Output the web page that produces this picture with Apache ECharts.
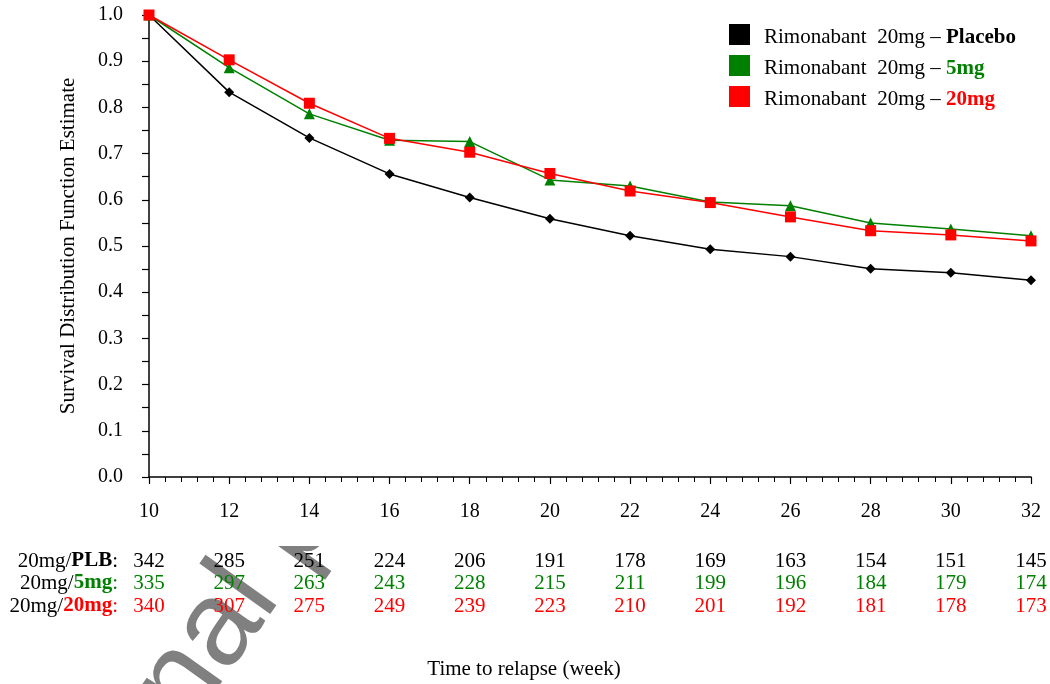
<!DOCTYPE html>
<html>
<head>
<meta charset="utf-8">
<script src="https://cdn.jsdelivr.net/npm/echarts@6/dist/echarts.min.js"></script>
<style>
  html, body { margin: 0; padding: 0; background: #fff; }
  #main { width: 1050px; height: 684px; }
</style>
</head>
<body>
<div id="main"></div>
<script>
// weeks on the x axis
var weeks = [10, 12, 14, 16, 18, 20, 22, 24, 26, 28, 30, 32];

// survival estimates
var placebo = [1.0, 0.833, 0.734, 0.656, 0.605, 0.559, 0.522, 0.493, 0.477, 0.451, 0.442, 0.426];
var dose5   = [1.0, 0.886, 0.786, 0.729, 0.726, 0.643, 0.630, 0.595, 0.587, 0.550, 0.537, 0.522];
var dose20  = [1.0, 0.903, 0.809, 0.733, 0.703, 0.657, 0.619, 0.594, 0.563, 0.533, 0.524, 0.511];

// numbers at risk under the axis
var riskPlb = [342, 285, 251, 224, 206, 191, 178, 169, 163, 154, 151, 145];
var risk5   = [335, 297, 263, 243, 228, 215, 211, 199, 196, 184, 179, 174];
var risk20  = [340, 307, 275, 249, 239, 223, 210, 201, 192, 181, 178, 173];

var FONT = "'Liberation Serif', 'Times New Roman', serif";
var GREEN = '#008000', RED = '#ff0000';

function pairs(vals) {
    return weeks.map(function (w, i) { return [w, vals[i]]; });
}

// extra x axes used only to lay the at-risk counts under each week
function riskAxis(counts, color, offset) {
    return {
        type: 'value', gridIndex: 0, position: 'bottom', offset: offset,
        min: 10, max: 32, interval: 2, z: 3,
        axisLine: {show: false}, axisTick: {show: false}, splitLine: {show: false},
        axisLabel: {
            margin: 0, color: color, fontFamily: FONT, fontSize: 21,
            showMinLabel: true, showMaxLabel: true,
            formatter: function (v) { return counts[Math.round((v - 10) / 2)]; }
        }
    };
}

var myChart = echarts.init(document.getElementById('main'));

var option = {
    backgroundColor: '#fff',
    animation: false,
    grid: {left: 149, right: 19, top: 15, bottom: 207},
    legend: {
        orient: 'vertical', left: 724, top: 19, itemWidth: 21, itemHeight: 21, itemGap: 7,
        icon: 'rect',
        data: ['Placebo', '5mg', '20mg'],
        textStyle: {
            fontFamily: FONT, fontSize: 21, color: '#000', padding: [6, 0, 0, 9],
            rich: {
                a: {fontFamily: FONT, fontSize: 21, color: '#000'},
                p: {fontFamily: FONT, fontSize: 21, color: '#000', fontWeight: 'bold'},
                g: {fontFamily: FONT, fontSize: 21, color: GREEN, fontWeight: 'bold'},
                r: {fontFamily: FONT, fontSize: 21, color: RED, fontWeight: 'bold'}
            }
        },
        formatter: function (name) {
            var key = name === 'Placebo' ? 'p' : (name === '5mg' ? 'g' : 'r');
            return '{a|Rimonabant  20mg \u2013 }{' + key + '|' + name + '}';
        }
    },
    xAxis: [{
        type: 'value', min: 10, max: 32, interval: 2, z: 3,
        axisLine: {onZero: false, lineStyle: {color: '#000', width: 1.5}},
        axisTick: {length: 7, lineStyle: {color: '#000', width: 1.2}},
        minorTick: {show: true, splitNumber: 5, length: 5, lineStyle: {color: '#000', width: 1}},
        splitLine: {show: false},
        axisLabel: {margin: 25, color: '#000', fontFamily: FONT, fontSize: 20}
    },
        riskAxis(riskPlb, '#000', 74),
        riskAxis(risk5, GREEN, 96),
        riskAxis(risk20, RED, 119)
    ],
    yAxis: {
        type: 'value', min: 0, max: 1, interval: 0.1, z: 3,
        name: 'Survival Distribution Function Estimate',
        nameLocation: 'middle', nameGap: 70,
        nameTextStyle: {fontFamily: FONT, fontSize: 21, color: '#000'},
        axisLine: {show: true, lineStyle: {color: '#000', width: 1.5}},
        axisTick: {show: true, length: 7, lineStyle: {color: '#000', width: 1.2}},
        minorTick: {show: true, splitNumber: 2, length: 7, lineStyle: {color: '#000', width: 1.2}},
        splitLine: {show: false},
        axisLabel: {
            margin: 26, color: '#000', fontFamily: FONT, fontSize: 20,
            formatter: function (v) { return v.toFixed(1); }
        }
    },
    series: [{
        name: 'Placebo', type: 'line', data: pairs(placebo),
        symbol: 'diamond', symbolSize: 10,
        itemStyle: {color: '#000'}, lineStyle: {color: '#000', width: 1.5}
    }, {
        name: '5mg', type: 'line', data: pairs(dose5),
        symbol: 'triangle', symbolSize: 11,
        itemStyle: {color: GREEN}, lineStyle: {color: GREEN, width: 1.5}
    }, {
        name: '20mg', type: 'line', data: pairs(dose20),
        symbol: 'rect', symbolSize: 11,
        itemStyle: {color: RED}, lineStyle: {color: RED, width: 1.5}
    }],
    graphic: [
        // watermark, only its lower part shows
        {
            type: 'text', x: 161, y: 710, rotation: 54.5 * Math.PI / 180, z: -1,
            style: {
                text: 'nal p', fill: '#808080',
                font: "120px 'Liberation Sans', Arial, sans-serif",
                textAlign: 'left', textVerticalAlign: 'middle'
            }
        },
        {
            type: 'rect', z: 1, shape: {x: 100, y: 0, width: 450, height: 546},
            style: {fill: '#fff'}
        },
        // row labels of the at-risk table
        {
            type: 'text', x: 118, y: 561, z: 3,
            style: {
                text: '{a|20mg/}{b|PLB}{a|:}', textAlign: 'right', textVerticalAlign: 'middle',
                rich: {
                    a: {fontFamily: FONT, fontSize: 21, fill: '#000'},
                    b: {fontFamily: FONT, fontSize: 21, fill: '#000', fontWeight: 'bold'}
                }
            }
        },
        {
            type: 'text', x: 118, y: 583, z: 3,
            style: {
                text: '{a|20mg/}{b|5mg}{c|:}', textAlign: 'right', textVerticalAlign: 'middle',
                rich: {
                    a: {fontFamily: FONT, fontSize: 21, fill: '#000'},
                    b: {fontFamily: FONT, fontSize: 21, fill: GREEN, fontWeight: 'bold'},
                    c: {fontFamily: FONT, fontSize: 21, fill: GREEN}
                }
            }
        },
        {
            type: 'text', x: 118, y: 606, z: 3,
            style: {
                text: '{a|20mg/}{b|20mg}{c|:}', textAlign: 'right', textVerticalAlign: 'middle',
                rich: {
                    a: {fontFamily: FONT, fontSize: 21, fill: '#000'},
                    b: {fontFamily: FONT, fontSize: 21, fill: RED, fontWeight: 'bold'},
                    c: {fontFamily: FONT, fontSize: 21, fill: RED}
                }
            }
        },
        {
            type: 'text', x: 524, y: 669, z: 3,
            style: {
                text: 'Time to relapse (week)', fill: '#000',
                font: "21px 'Liberation Serif', 'Times New Roman', serif",
                textAlign: 'center', textVerticalAlign: 'middle'
            }
        }
    ]
};
myChart.setOption(option);
</script>
</body>
</html>
